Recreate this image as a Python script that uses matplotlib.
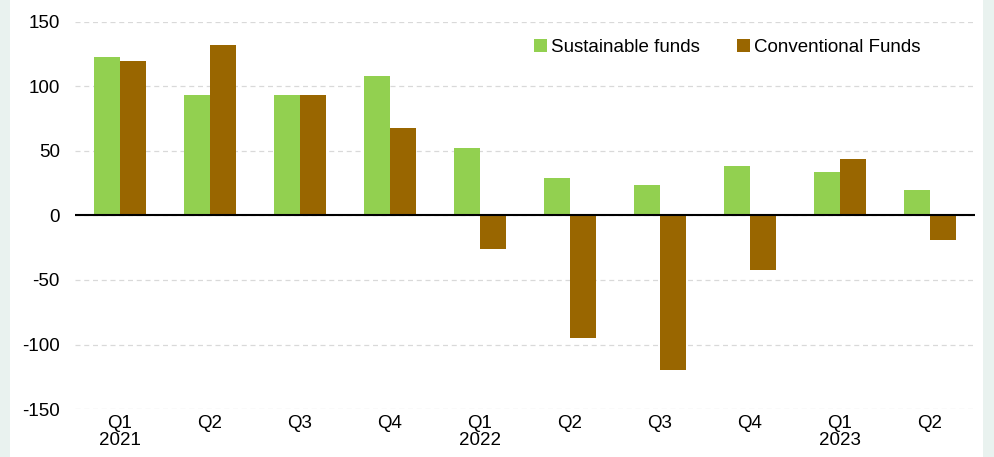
import numpy as np
import matplotlib.pyplot as plt
from matplotlib.patches import Rectangle

plt.rcParams['font.family'] = ['Liberation Sans', 'DejaVu Sans']
plt.rcParams['axes.unicode_minus'] = False

quarters = ['Q1\n2021', 'Q2', 'Q3', 'Q4', 'Q1\n2022', 'Q2', 'Q3', 'Q4', 'Q1\n2023', 'Q2']
sustainable = [123, 93, 93, 108, 52, 29, 24, 38, 34, 20]
conventional = [120, 132, 93, 68, -26, -95, -120, -42, 44, -19]

fig = plt.figure(figsize=(9.95, 4.57), dpi=100)
fig.patch.set_facecolor('#e9f2ef')
fig.patches.append(Rectangle((10 / 995, 0), 973 / 995, 1, transform=fig.transFigure,
                             facecolor='white', edgecolor='none', zorder=-5))
ax = fig.add_axes([75 / 995, 0.105, 900 / 995, 0.847])
ax.set_zorder(1)
ax.set_facecolor('white')

x = np.arange(len(quarters))
w = 0.29
ax.bar(x - w / 2, sustainable, w, color='#92d050', label='Sustainable funds', zorder=3)
ax.bar(x + w / 2, conventional, w, color='#996600', label='Conventional Funds', zorder=3)

ax.axhline(0, color='black', lw=1.5, zorder=4)
ax.set_xlim(-0.5, len(quarters) - 0.5)
ax.set_ylim(-150, 150)
ax.set_yticks(range(-150, 151, 50))
ax.yaxis.grid(True, color='#d9d9d9', ls=(0, (4, 3)), lw=0.9, zorder=0)
ax.set_xticks(x)
ax.set_xticklabels(quarters, fontsize=13.5, linespacing=1.05)
ax.tick_params(axis='y', labelsize=13.5, length=0, pad=11)
ax.tick_params(axis='x', length=0, pad=4)
for s in ax.spines.values():
    s.set_visible(False)

ax.legend(loc='upper right', bbox_to_anchor=(0.958, 1.0), ncol=2, frameon=False,
          fontsize=13.5, handlelength=0.7, handleheight=0.7, handletextpad=0.2,
          columnspacing=2.0)

fig.savefig('out.png', dpi=100, facecolor=fig.get_facecolor())
